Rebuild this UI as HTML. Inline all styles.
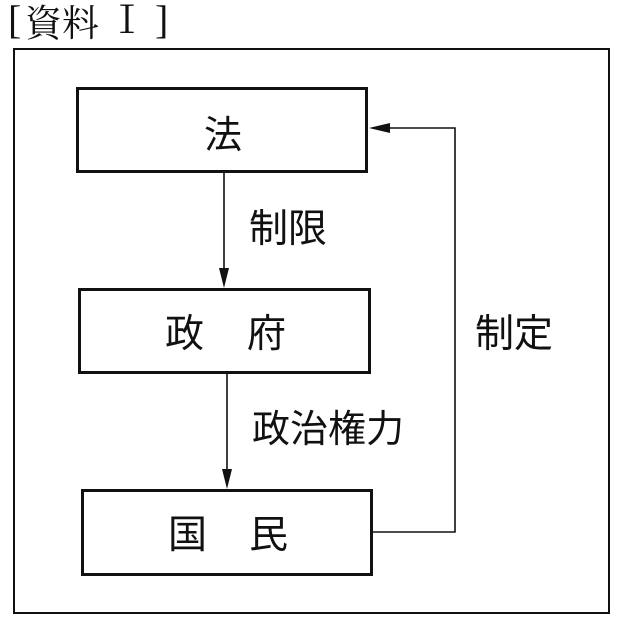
<!DOCTYPE html>
<html><head><meta charset="utf-8"><style>
body{margin:0;width:622px;height:640px;background:#fff;position:relative;overflow:hidden;font-family:"Liberation Serif","Noto Serif CJK SC","Noto Sans CJK JP",serif;color:#111}
.t{position:absolute;line-height:1;white-space:nowrap}
.s{font-family:'Noto Sans CJK JP',sans-serif;font-size:39px}
.b{position:absolute;border:3px solid #111;box-sizing:border-box}
</style></head><body>
<div class="t" style="left:8px;top:0px;font-size:40px;">[</div>
<div class="t" style="left:25px;top:2px;font-size:37px;font-family:'Noto Serif CJK SC',serif">資料</div>
<div class="t" style="left:108px;top:2px;font-size:38px;">Ⅰ</div>
<div class="t" style="left:155px;top:0px;font-size:40px;">]</div>
<div class="b" style="left:13px;top:48px;width:597px;height:566px;border-width:2px"></div>
<div class="b" style="left:76px;top:87px;width:292px;height:86px"></div>
<div class="b" style="left:78px;top:288px;width:293px;height:86px"></div>
<div class="b" style="left:81px;top:489px;width:292px;height:87px"></div>
<div class="t s" style="left:204px;top:113px;font-size:38px">法</div>
<div class="t s" style="left:165px;top:312px">政</div>
<div class="t s" style="left:247px;top:312px">府</div>
<div class="t s" style="left:168px;top:513px">国</div>
<div class="t s" style="left:249px;top:513px">民</div>
<div class="t s" style="left:249px;top:207px">制限</div>
<div class="t s" style="left:252px;top:407px;font-size:38px">政治権力</div>
<div class="t s" style="left:475px;top:312px">制定</div>
<svg width="622" height="640" style="position:absolute;left:0;top:0">
<g stroke="#111" stroke-width="1.6" fill="none">
<line x1="224" y1="173" x2="224" y2="282"/>
<line x1="227" y1="374" x2="227" y2="483"/>
<polyline points="373,532 455,532 455,128 378,128"/>
</g>
<g fill="#111">
<polygon points="219,268 229,268 224,288"/>
<polygon points="222,469 232,469 227,489"/>
<polygon points="369,128 390,123 390,133"/>
</g>
</svg>
</body></html>
